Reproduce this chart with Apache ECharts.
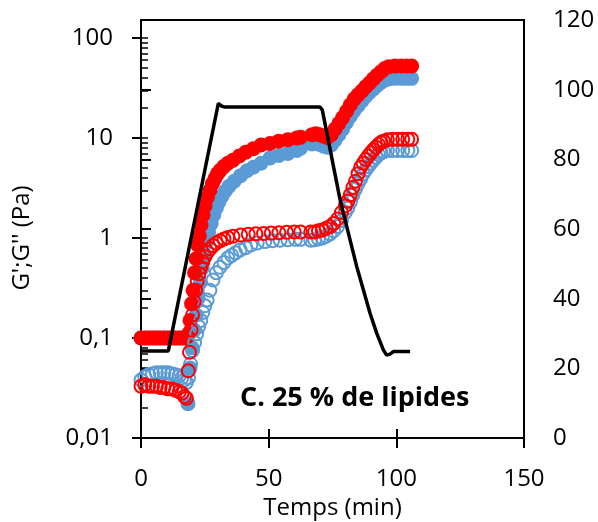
<!DOCTYPE html>
<html>
<head>
<meta charset="utf-8">
<script src="https://cdn.jsdelivr.net/npm/echarts@6/dist/echarts.min.js"></script>
<style>
html,body{margin:0;padding:0;background:#fff;}
#chart{width:598px;height:522px;}
</style>
</head>
<body>
<div id="chart"></div>
<script>
// ---- Data ----
// G' (filled), sample A (blue)
const tGpBlue = [0,1.5,3,4.5,6,7.5,9,10.5,12,13.5,15,16.5,17.8,18.4,19.2,20,20.8,21.6,22.4,23.2,24,24.8,25.6,26.5,27.5,28.5,29.5,30.5,31.7,33,34.5,36.5,39,41.5,44,47,50.5,54,57.5,61,62.5,67,68.5,70,71.5,73,74.5,76,77.5,79,80.5,82,83.5,85,86.5,88,89.5,91,92.5,94,95.5,97,99.5,102,104,106];
const gpBlue  = [0.1,0.1,0.1,0.1,0.1,0.1,0.1,0.1,0.1,0.1,0.1,0.1,0.1,0.022,0.05,0.08,0.12,0.17,0.25,0.36,0.5,0.68,0.9,1.15,1.4,1.7,2.0,2.3,2.6,2.95,3.3,3.7,4.2,4.7,5.1,5.6,6.3,6.7,7.0,7.5,7.9,8.7,8.8,8.6,8.3,8.1,8.5,9.5,10.8,12.3,14.3,16.5,18.8,21,23.5,26,28.5,31,33.5,36,38,39,39.5,39.5,39.5,39.5];
// G' (filled), sample B (red)
const tGpRed = [0,1.5,3,4.5,6,7.5,9,10.5,12,13.5,15,16.5,17.8,18.6,19.2,19.8,20.4,21,21.6,22.2,22.8,23.5,24.3,25.1,26,27,28,29,30,31,32.5,34,36,38.5,41,44,47,50.5,54,57.5,61,62.5,67,68.5,70,71.5,73,74.5,76,77.5,79,80.5,82,83.5,85,86.5,88,89.5,91,92.5,94,95.5,97,99.5,102,104,106];
const gpRed  = [0.1,0.1,0.1,0.1,0.1,0.1,0.1,0.1,0.1,0.1,0.1,0.1,0.1,0.11,0.15,0.22,0.3,0.45,0.62,0.85,1.05,1.35,1.7,2.1,2.55,3.0,3.5,3.95,4.4,4.75,5.2,5.6,6.0,6.6,7.2,7.8,8.5,8.8,9.3,9.6,10.0,10.2,10.8,11,10.8,10.4,10.1,10.8,12.3,14,16,18.5,21.5,24.5,27,29.5,32.5,35.5,39,42.5,46,49.5,51.5,52.5,52.5,52.5,52.5];
// G'' (open), sample A (blue)
const tGsBlue = [0,1.5,3,4.5,6,7.5,9,10.5,12,13.5,15,16,17,17.8,18.6,19.4,20.2,21,21.8,22.6,23.4,24.2,25,25.9,27,28.2,29.5,30.9,32.5,34,35.5,37,38.8,41,43,45.5,48.5,51.5,54.5,57.5,60.5,62.5,66.5,68,69.5,71,72.5,74,75.5,77,78.5,80,81,82,83,84,85,86,87,88,89,90,91,92,93,94,95,96.5,98.5,100.5,102.5,104.5,106];
const gsBlue  = [0.038,0.041,0.043,0.044,0.045,0.045,0.045,0.045,0.044,0.043,0.042,0.04,0.038,0.036,0.04,0.055,0.075,0.09,0.11,0.13,0.15,0.18,0.21,0.24,0.3,0.38,0.45,0.51,0.57,0.63,0.67,0.71,0.76,0.8,0.85,0.89,0.92,0.94,0.95,0.96,0.97,0.97,0.95,0.96,0.98,1.0,1.04,1.1,1.18,1.3,1.5,1.8,2.0,2.3,2.7,3.1,3.5,3.9,4.4,4.8,5.2,5.6,6.0,6.4,6.8,7.1,7.3,7.5,7.5,7.5,7.5,7.5,7.5];
// G'' (open), sample B (red)
const tGsRed = [0,1.5,3,4.5,6,7.5,9,10.5,12,13.5,15,16,17,17.8,18.5,19,19.6,20.2,20.8,21.4,22,22.7,23.4,24.2,25,26,27,28.2,29.5,31,32.5,34,36,39,42,45,48,51,54,57,60,62.5,66.5,68,69.5,71,72.5,74,75.5,77,78.5,80,81,82,83,84,85,86,87,88,89,90,91,92,93,94,95,96.5,98.5,100.5,102.5,104.5,106];
const gsRed  = [0.033,0.034,0.033,0.033,0.033,0.032,0.032,0.031,0.031,0.03,0.029,0.028,0.026,0.025,0.047,0.072,0.12,0.17,0.23,0.3,0.37,0.44,0.51,0.58,0.65,0.72,0.78,0.84,0.89,0.94,0.98,1.01,1.04,1.07,1.09,1.1,1.11,1.12,1.13,1.14,1.15,1.15,1.15,1.15,1.18,1.2,1.25,1.3,1.4,1.55,1.8,2.1,2.35,2.7,3.2,3.7,4.4,5.1,5.6,6.1,6.6,7.1,7.6,8.1,8.6,9.0,9.3,9.6,9.7,9.7,9.7,9.7,9.7];
// Temperature (right axis)
const tTemp = [0,10.7,30.3,31.5,32.9,70.1,71,78,81.9,84.5,87.1,89.7,92.3,94.9,96.2,97.5,98.8,105.4];
const temp  = [25,25,96.1,95.3,95,95,94.2,68.3,56.8,49.2,42.5,35.8,30.1,25.3,23.8,24.1,24.8,24.8];

const minorLogTicks = [];
[0.01,0.1,1,10].forEach(function(d){ for (let k=1;k<10;k++) minorLogTicks.push(+(d*k).toPrecision(3)); });
minorLogTicks.push(100);

const annotation = 'C. 25 % de lipides';
const yName = "G';G'' (Pa)";
const xName = 'Temps (min)';

function pairs(xs, ys){ return xs.map(function(x,i){ return [x, ys[i]]; }); }

const FONT = '"Open Sans", sans-serif';
const BLUE = '#5B9BD5', RED = '#FF0000';

const chart = echarts.init(document.getElementById('chart'), null, {renderer:'canvas'});
chart.setOption({
  animation: false,
  backgroundColor: '#fff',
  textStyle: {fontFamily: FONT},
  title: {
    text: annotation, left: 240, top: 385, padding: 0,
    textStyle: {fontFamily: FONT, fontWeight: 'bold', fontSize: 27, color: '#000'}
  },
  grid: [
    {left: 141, right: 74, top: 38, bottom: 84, outerBoundsMode: 'none', containLabel: false},
    {left: 141, right: 74, top: 20, bottom: 84, outerBoundsMode: 'none', containLabel: false,
     show: true, borderColor: '#000', borderWidth: 2, backgroundColor: 'transparent'}
  ],
  xAxis: [
    {gridIndex: 0, type: 'value', min: 0, max: 150, interval: 50,
     axisLine: {show: true, lineStyle: {color: '#000', width: 2}},
     axisTick: {show: true, inside: false, length: 10, lineStyle: {color: '#000', width: 2}},
     axisLabel: {show: true, fontSize: 24, color: '#000', margin: 29, fontFamily: FONT},
     splitLine: {show: false},
     name: xName, nameLocation: 'middle', nameGap: 58,
     nameTextStyle: {fontSize: 24, color: '#000', fontFamily: FONT}},
    {gridIndex: 1, type: 'value', min: 0, max: 150, interval: 50,
     axisLine: {show: true, lineStyle: {color: '#000', width: 2}},
     axisTick: {show: true, inside: true, length: 9, lineStyle: {color: '#000', width: 2}},
     axisLabel: {show: false}, splitLine: {show: false}}
  ],
  yAxis: [
    {gridIndex: 0, type: 'log', logBase: 10, min: 0.01, max: 100, position: 'left',
     axisLine: {show: true, lineStyle: {color: '#000', width: 2}},
     axisTick: {show: true, inside: false, length: 9, lineStyle: {color: '#000', width: 2}},
     axisLabel: {show: true, fontSize: 24, color: '#000', margin: 28, fontFamily: FONT,
       formatter: function(v){ return String(+(+v).toPrecision(6)).replace('.', ','); }},
     splitLine: {show: false},
     name: yName, nameLocation: 'middle', nameGap: 107, nameRotate: 90,
     nameTextStyle: {fontSize: 24, color: '#000', fontFamily: FONT}},
    {gridIndex: 0, type: 'log', logBase: 10, min: 0.01, max: 100, position: 'left',
     axisLine: {show: false},
     axisTick: {show: true, inside: true, length: 7, customValues: minorLogTicks, lineStyle: {color: '#000', width: 1.5}},
     axisLabel: {show: false}, splitLine: {show: false}},
    {gridIndex: 1, type: 'value', min: 0, max: 120, interval: 20, position: 'right',
     axisLine: {show: true, lineStyle: {color: '#000', width: 2}},
     axisTick: {show: true, inside: false, length: 10, lineStyle: {color: '#000', width: 2}},
     axisLabel: {show: true, fontSize: 24, color: '#000', margin: 29, fontFamily: FONT},
     splitLine: {show: false}}
  ],
  series: [
    {type: 'scatter', name: "G' A", xAxisIndex: 0, yAxisIndex: 0, data: pairs(tGpBlue, gpBlue),
     symbol: 'circle', symbolSize: 15, itemStyle: {color: BLUE, opacity: 1}},
    {type: 'scatter', name: "G' B", xAxisIndex: 0, yAxisIndex: 0, data: pairs(tGpRed, gpRed),
     symbol: 'circle', symbolSize: 15, itemStyle: {color: RED, opacity: 1}},
    {type: 'scatter', name: "G'' A", xAxisIndex: 0, yAxisIndex: 0, data: pairs(tGsBlue, gsBlue),
     symbol: 'circle', symbolSize: 13, itemStyle: {color: 'rgba(0,0,0,0)', borderColor: BLUE, borderWidth: 2, opacity: 1}},
    {type: 'scatter', name: "G'' B", xAxisIndex: 0, yAxisIndex: 0, data: pairs(tGsRed, gsRed),
     symbol: 'circle', symbolSize: 13, itemStyle: {color: 'rgba(0,0,0,0)', borderColor: RED, borderWidth: 2, opacity: 1}},
    {type: 'line', name: 'T', xAxisIndex: 1, yAxisIndex: 2, data: pairs(tTemp, temp),
     showSymbol: false, symbol: 'none', smooth: false, lineStyle: {color: '#000', width: 3.5}, z: 5}
  ]
});
</script>
</body>
</html>
